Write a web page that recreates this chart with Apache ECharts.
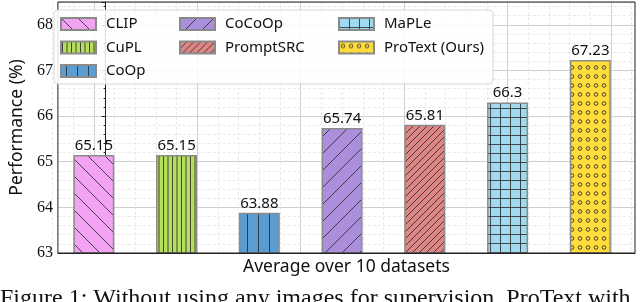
<!DOCTYPE html>
<html><head><meta charset="utf-8">
<script src="https://cdn.jsdelivr.net/npm/echarts@6/dist/echarts.min.js"></script>
<style>html,body{margin:0;padding:0;background:#fff}#c{width:640px;height:302px}</style>
</head><body><div id="c"></div>
<script>
const categories = ['CLIP','CuPL','CoOp','CoCoOp','PromptSRC','MaPLe','ProText (Ours)'];
const values = [65.15, 65.15, 63.88, 65.74, 65.81, 66.3, 67.23];
const yTicks = [63, 64, 65, 66, 67, 68];
const legendCols = [['CLIP','CuPL','CoOp'], ['CoCoOp','PromptSRC'], ['MaPLe','ProText (Ours)']];
const fills = ['#f2a3f2', '#b6de5e', '#5a9dd2', '#ac8fdc', '#de8585', '#a0daf0', '#fddc3c'];

const INK = 'rgba(45,45,45,0.85)';
function mk(w, h, bg) {
  const c = document.createElement('canvas'); c.width = w; c.height = h;
  const g = c.getContext('2d'); g.fillStyle = bg; g.fillRect(0, 0, w, h);
  g.strokeStyle = INK; g.lineWidth = 1; return [c, g];
}
function diag(bg, p, back) {
  const [c, g] = mk(p, p, bg);
  g.beginPath();
  if (back) { g.moveTo(-1,-1); g.lineTo(p+1,p+1); g.moveTo(-1,p-1); g.lineTo(1,p+1); g.moveTo(p-1,-1); g.lineTo(p+1,1); }
  else { g.moveTo(-1,p+1); g.lineTo(p+1,-1); g.moveTo(-1,1); g.lineTo(1,-1); g.moveTo(p-1,p+1); g.lineTo(p+1,p-1); }
  g.stroke(); return c;
}
function vert(bg, w, xs) {
  const [c, g] = mk(w, 8, bg);
  g.beginPath(); xs.forEach(x => { g.moveTo(x, 0); g.lineTo(x, 8); }); g.stroke(); return c;
}
function grid(bg, w, h) {
  const [c, g] = mk(w, h, bg);
  g.beginPath(); g.moveTo(0.5, 0); g.lineTo(0.5, h); g.moveTo(0, 0.5); g.lineTo(w, 0.5); g.stroke(); return c;
}
function dots(bg, w, h) {
  const [c, g] = mk(w, h, bg);
  g.beginPath(); g.arc(w/2, h/2, 1.8, 0, Math.PI*2); g.stroke(); return c;
}
const patterns = [
  diag(fills[0], 17, true),
  vert(fills[1], 9, [1.5, 6]),
  vert(fills[2], 11, [5.5]),
  diag(fills[3], 17, false),
  diag(fills[4], 7, false),
  grid(fills[5], 10, 9),
  dots(fills[6], 8, 9)
];

// matplotlib axes: x data range [-0.59, 6.54] over pixels 45..635, bars at 0..6
const XMIN = -0.59, XMAX = 6.54, L = 45, R = 635;
const pxPer = (R - L) / (XMAX - XMIN);
const gx = v => L + (v - XMIN) * pxPer;

const sans = "'Noto Sans', 'DejaVu Sans', sans-serif";
const serif = "'Liberation Serif', 'DejaVu Serif', serif";

const series = categories.map((name, i) => ({
  name, type: 'bar', xAxisIndex: 3, yAxisIndex: 3, barWidth: 41, barGap: '-100%', z: 3,
  data: categories.map((c, j) => j === i ? values[i] : '-'),
  itemStyle: { color: { image: patterns[i], repeat: 'repeat' }, borderColor: '#8a8a8a', borderWidth: 1.5 },
  label: { show: true, position: 'top', distance: 2, fontFamily: sans, fontSize: 15, color: '#111',
           formatter: p => String(p.value) }
}));

const yRange = { min: 63, max: 68.5 };
const option = {
  animation: false,
  grid: [
    { left: L, right: 640 - R, top: 2, bottom: 49, show: true, borderColor: '#222', borderWidth: 1, z: 4 },
    { left: gx(-0.5), width: gx(6.5) - gx(-0.5), top: 2, bottom: 49 },
    { left: gx(0), width: gx(6.25) - gx(0), top: 2, bottom: 49 },
    { left: gx(-0.5), width: gx(6.5) - gx(-0.5), top: 2, bottom: 49 }
  ],
  xAxis: [
    { type: 'value', gridIndex: 0, min: XMIN, max: XMAX, z: 4,
      axisLine: { show: true, onZero: false, lineStyle: { color: '#222', width: 1 } },
      axisTick: { show: false }, axisLabel: { show: false }, splitLine: { show: false },
      name: 'Average over 10 datasets', nameLocation: 'middle', nameGap: 5,
      nameTextStyle: { fontFamily: sans, fontSize: 17.5, color: '#111', verticalAlign: 'top' } },
    { type: 'value', gridIndex: 1, min: -0.5, max: 6.5, interval: 0.25, z: 0,
      axisLine: { show: false }, axisTick: { show: false }, axisLabel: { show: false },
      splitLine: { show: true, lineStyle: { color: '#e4e4e4', width: 0.8, type: [3, 2] } } },
    { type: 'value', gridIndex: 2, min: 0, max: 6.25, interval: 1.25, z: 0,
      axisLine: { show: false }, axisTick: { show: false }, axisLabel: { show: false },
      splitLine: { show: true, lineStyle: { color: '#cfcfcf', width: 1 } } },
    { type: 'category', gridIndex: 3, data: categories, show: false, boundaryGap: true }
  ],
  yAxis: [
    { type: 'value', gridIndex: 0, min: yTicks[0], max: yRange.max, interval: 1, z: 1,
      axisLine: { show: true, lineStyle: { color: '#222', width: 1 } },
      axisTick: { show: true, length: 4, lineStyle: { color: '#222' } },
      minorTick: { show: true, splitNumber: 5, length: 2, lineStyle: { color: '#222' } },
      axisLabel: { fontFamily: serif, fontSize: 16, color: '#111', margin: 5,
                   formatter: v => yTicks.includes(v) ? String(v) : '' },
      splitLine: { show: true, lineStyle: { color: '#cfcfcf', width: 1 } },
      minorSplitLine: { show: true, lineStyle: { color: '#e4e4e4', width: 0.8, type: [3, 2] } },
      name: 'Performance (%)', nameLocation: 'middle', nameGap: 26,
      nameTextStyle: { fontFamily: sans, fontSize: 17.5, color: '#111' } },
    { type: 'value', gridIndex: 1, ...yRange, show: false, splitLine: { show: false } },
    { type: 'value', gridIndex: 2, ...yRange, show: false, splitLine: { show: false } },
    { type: 'value', gridIndex: 3, ...yRange, show: false, splitLine: { show: false } }
  ],
  legend: legendCols.map((col, k) => ({
    data: col, orient: 'vertical', left: [60, 179, 338][k], top: 14, z: 8, padding: 0,
    itemWidth: 35, itemHeight: 12, itemGap: 3.5, icon: 'rect', selectedMode: false,
    textStyle: { fontFamily: sans, fontSize: 15, color: '#111', padding: [0, 0, 0, 5], lineHeight: 20 }
  })),
  graphic: [
    { type: 'rect', z: 6, shape: { x: 54, y: 10, width: 439, height: 74, r: 4 },
      style: { fill: 'rgba(255,255,255,0.85)', stroke: '#d6d6d6', lineWidth: 1 } },
    { type: 'text', z: 6, left: 0, top: 287,
      style: { text: 'Figure 1: Without using any images for supervision, ProText with',
               font: "24px 'Liberation Serif', serif", fill: '#111' } }
  ],
  series
};
const chart = echarts.init(document.getElementById('c'), null, { renderer: 'canvas' });
chart.setOption(option);
</script></body></html>
